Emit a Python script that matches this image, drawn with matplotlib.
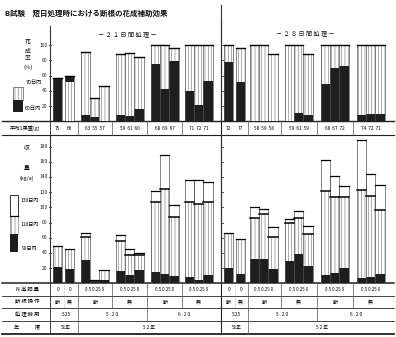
import matplotlib.pyplot as plt
from matplotlib.patches import Rectangle

plt.rcParams['font.family'] = ['Noto Sans CJK JP', 'DejaVu Sans']
plt.rcParams['hatch.linewidth'] = 0.5

W, H = 396, 337
PX = 0.76          # pixels per value unit on both panels
BW = 9.2           # bar width (px)

group_sizes = [2, 3, 3, 3, 3]
left_starts = [53, 81, 116, 151, 185]
right_starts = [224, 250, 285, 321, 357]

# flowering rate (%): black = within 60 days, striped total = within 70 days
left_rate60 = [57, 59, 8, 6, 0, 8, 7, 16, 76, 42, 79, 40, 21, 53]
left_rate70 = [57, 59, 91, 31, 46, 88, 90, 84, 100, 100, 97, 100, 100, 100]
right_rate60 = [78, 52, 0, 0, 0, 0, 11, 8, 49, 70, 73, 8, 9, 9]
right_rate70 = [100, 97, 100, 100, 88, 100, 100, 89, 100, 100, 100, 100, 100, 100]
left_rate60_from = {1: 52}   # black part that sits on top of the stripes

# yield (kg/a): cumulative within 90 / 110 / 130 days
left_y90 = [22, 18.5, 31, 2, 4.5, 16, 11, 17.5, 14.5, 12, 9.6, 8.7, 4, 11]
left_y110 = [49, 45.5, 61, 3, 17.5, 55.5, 37, 37, 106.5, 124, 87, 106.5, 104, 106.5]
left_y130 = [49, 45.5, 66, 5, 17.5, 63.5, 44.5, 40.5, 121, 169, 102.5, 136, 136, 133]
right_y90 = [20.5, 12, 32, 32, 19, 29, 38, 22.7, 11, 13, 20.5, 7.4, 8.7, 12]
right_y110 = [66.6, 58.7, 86, 91, 60.5, 79, 85.5, 65, 121.4, 113, 113, 122.7, 115, 96.5]
right_y130 = [66.6, 58.7, 100, 97.7, 74.5, 84, 94.7, 76, 162, 141, 127.5, 189, 144, 129]

# mean fruit weight (g)
left_weight = [['75', '66'], ['63', '55', '57'], ['59', '61', '60'], ['68', '69', '67'], ['71', '72', '71']]
right_weight = [['72', '77'], ['58', '59', '58'], ['59', '61', '59'], ['68', '67', '72'], ['74', '72', '71']]

n_levels = [['0', '0'], ['0.5', '0.25', '0'], ['0.5', '0.25', '0'], ['0.5', '0.25', '0'], ['0.5', '0.25', '0']]
root_cut = [['断', '無'], '断', '無', '断', '無']
left_timing = ['5.25', '5.20', '6.20']
right_timing = ['5.25', '5.20', '6.20']
left_year = ['51年', '52年']
right_year = ['51年', '52年']

DARK = '#1e1e1e'
STRIPE = '#8a8a8a'


def bar_lefts(starts):
    xs = []
    for s, n in zip(starts, group_sizes):
        pitch = 12 if n == 2 else BW
        xs += [s + k * pitch for k in range(n)]
    return xs


def group_bounds(starts):
    xs = bar_lefts(starts)
    out, i = [], 0
    for n in group_sizes:
        out.append((xs[i], xs[i + n - 1] + BW))
        i += n
    return out


fig = plt.figure(figsize=(W / 100, H / 100), dpi=100)
fig.patch.set_facecolor('white')

ov = fig.add_axes([0, 0, 1, 1])
ov.set_xlim(0, W)
ov.set_ylim(H, 0)
ov.axis('off')


def panel(top_px, base_px):
    ax = fig.add_axes([0, 1 - base_px / H, 1, (base_px - top_px) / H])
    ax.set_xlim(0, W)
    ax.set_ylim(0, (base_px - top_px) / PX)
    ax.axis('off')
    return ax


def striped(ax, x, y0, y1, w=BW):
    ax.add_patch(Rectangle((x, y0), w, y1 - y0, facecolor='white',
                           edgecolor=STRIPE, hatch='|||||', lw=0))


top_base, bot_base = 121.3, 283.3
ax_top = panel(18, top_base)
ax_bot = panel(134.5, bot_base)

# --- upper panel: flowering rate
for starts, r60, r70, cap in [(left_starts, left_rate60, left_rate70, left_rate60_from),
                              (right_starts, right_rate60, right_rate70, {})]:
    for i, x in enumerate(bar_lefts(starts)):
        striped(ax_top, x, 0, r70[i])
        b0 = cap.get(i, 0)
        if r60[i] > b0:
            ax_top.add_patch(Rectangle((x, b0), BW, r60[i] - b0, facecolor=DARK, lw=0))
        ax_top.add_patch(Rectangle((x, 0), BW, r70[i], fill=False, edgecolor='#555555', lw=0.5))
        ax_top.plot([x, x + BW], [r70[i], r70[i]], color='black', lw=1.0)

# --- lower panel: yield
for starts, y90, y110, y130 in [(left_starts, left_y90, left_y110, left_y130),
                                (right_starts, right_y90, right_y110, right_y130)]:
    for i, x in enumerate(bar_lefts(starts)):
        striped(ax_bot, x, 0, y110[i])
        ax_bot.add_patch(Rectangle((x, 0), BW, y90[i], facecolor=DARK, lw=0))
        ax_bot.add_patch(Rectangle((x, 0), BW, y130[i], fill=False, edgecolor='#555555', lw=0.5))
        ax_bot.plot([x, x + BW], [y130[i], y130[i]], color='black', lw=0.9)
        if y130[i] > y110[i]:
            ax_bot.plot([x, x + BW], [y110[i], y110[i]], color='black', lw=1.1)

# axes lines and ticks
for ax, ticks in [(ax_top, [20, 40, 60, 80, 100]), (ax_bot, [20, 40, 60, 80, 100, 120, 140, 160, 180])]:
    ymax = ax.get_ylim()[1]
    ax.plot([50, 50], [0, ymax if ax is ax_bot else 126], color='#333333', lw=0.8)
    ax.plot([220.5, 220.5], [0, ymax], color='#333333', lw=0.8)
    for t in ticks:
        ax.plot([48.5, 50.5], [t, t], color='#333333', lw=0.6)
        ax.plot([220.5, 222.5], [t, t], color='#333333', lw=0.6)
        ax.text(47.5, t, str(t), ha='right', va='center', fontsize=3.6, color='#222222')
# half divider reaches up to the top of the sheet
ov.plot([220.5, 220.5], [5, 121.3], color='#333333', lw=0.8)

# --- titles
ov.text(5, 13, 'B試験　短日処理時における断根の花成補助効果', fontsize=5.4,
        ha='left', va='center', color='#111111', fontweight='bold')
ov.text(127, 34, '－ ２ １ 日 間 処 理 －', fontsize=4.4, ha='center', va='center', color='#111111')
ov.text(305, 33, '－ ２ ８ 日 間 処 理 －', fontsize=4.4, ha='center', va='center', color='#111111')

# y labels and legends
for yy, s in zip([43, 51, 59, 67], ['花', '成', '率', '(%)']):
    ov.text(28, yy, s, fontsize=4.2, ha='center', va='center', color='#111111')
striped(ov, 13, 87, 100, w=10)
ov.add_patch(Rectangle((13, 87), 10, 13, fill=False, edgecolor='#555555', lw=0.5))
ov.add_patch(Rectangle((13, 100), 10, 12, facecolor=DARK, lw=0))
ov.text(26, 83, '70日内', fontsize=3.8, ha='left', va='center')
ov.text(25, 109, '60日内', fontsize=3.8, ha='left', va='center')

ov.text(27, 149, '収', fontsize=4.2, ha='center', va='center')
ov.text(27, 169, '量', fontsize=4.2, ha='center', va='center')
ov.text(27, 178, '(kg/a)', fontsize=3.8, ha='center', va='center')
ov.add_patch(Rectangle((10, 195), 8, 21, facecolor='white', edgecolor='#333333', lw=0.7))
striped(ov, 10, 234, 216, w=8)
ov.add_patch(Rectangle((10, 216), 8, 18, fill=False, edgecolor='#666666', lw=0.4))
ov.plot([10, 18], [216, 216], color='black', lw=0.9)
ov.add_patch(Rectangle((10, 234), 8, 18, facecolor=DARK, lw=0))
ov.text(21, 201, '130日内', fontsize=3.6, ha='left', va='center')
ov.text(21, 224, '110日内', fontsize=3.6, ha='left', va='center')
ov.text(22, 248, '90日内', fontsize=3.6, ha='left', va='center')

# --- tables
LINE = '#222222'
for yy, lw in [(121.3, 1.0), (134.5, 0.8), (283.3, 1.1), (296, 0.6), (308.3, 0.6), (320.7, 0.6), (334, 1.3)]:
    ov.plot([2, 394], [yy, yy], color=LINE, lw=lw)
ov.plot([50, 50], [121.3, 134.5], color=LINE, lw=0.6)
ov.plot([50, 50], [283.3, 334], color=LINE, lw=0.6)
ov.plot([220.5, 220.5], [121.3, 334], color=LINE, lw=0.8)

ov.text(25, 128, '平均1果重(g)', fontsize=3.8, ha='center', va='center')
for yy, s in zip([289.7, 302.2, 314.5, 327.4], ['N 追 肥 量', '断 根 操 作', '処 理 時 期', '年　　　度']):
    ov.text(27, yy, s, fontsize=3.8, ha='center', va='center')

for starts, weights, timing, year, right_edge in [
        (left_starts, left_weight, left_timing, left_year, 220.5),
        (right_starts, right_weight, right_timing, right_year, 396)]:
    bounds = group_bounds(starts)
    xs = bar_lefts(starts)
    seps = [(bounds[k][1] + bounds[k + 1][0]) / 2 for k in range(len(bounds) - 1)]
    # separators by row
    for s in seps:
        ov.plot([s, s], [121.3, 134.5], color='#555555', lw=0.5)
        ov.plot([s, s], [283.3, 308.3], color='#555555', lw=0.5)
    for s in [seps[0], seps[2]]:
        ov.plot([s, s], [308.3, 320.7], color='#555555', lw=0.5)
    ov.plot([seps[0], seps[0]], [320.7, 334], color='#555555', lw=0.5)
    g1_mid = (xs[0] + BW + xs[1]) / 2
    ov.plot([g1_mid, g1_mid], [283.3, 308.3], color='#777777', lw=0.4, ls=':')

    i = 0
    for g, n in enumerate(group_sizes):
        gx = (bounds[g][0] + bounds[g][1]) / 2
        centers = [x + BW / 2 for x in xs[i:i + n]]
        if n == 2:
            for c, w, nl, rc in zip(centers, weights[g], n_levels[g], root_cut[g]):
                ov.text(c, 128, w, fontsize=3.4, ha='center', va='center')
                ov.text(c, 289.7, nl, fontsize=3.4, ha='center', va='center')
                ov.text(c, 302.2, rc, fontsize=3.6, ha='center', va='center')
        else:
            ov.text(gx, 128, '  '.join(weights[g]), fontsize=3.4, ha='center', va='center')
            ov.text(gx, 289.7, ' '.join(n_levels[g]), fontsize=3.2, ha='center', va='center')
            ov.text(gx, 302.2, root_cut[g], fontsize=3.6, ha='center', va='center')
        i += n
    # timing and year rows
    ov.text((bounds[0][0] + seps[0]) / 2 + 1, 314.5, timing[0], fontsize=3.4, ha='center', va='center')
    ov.text((seps[0] + seps[2]) / 2, 314.5, ' '.join(timing[1]), fontsize=3.4, ha='center', va='center')
    ov.text((seps[2] + right_edge) / 2, 314.5, ' '.join(timing[2]), fontsize=3.4, ha='center', va='center')
    ov.text((bounds[0][0] + seps[0]) / 2 + 1, 327.4, year[0], fontsize=3.4, ha='center', va='center')
    ov.text((seps[0] + right_edge) / 2, 327.4, ' '.join(year[1]), fontsize=3.4, ha='center', va='center')

fig.savefig('out.png', dpi=100)
